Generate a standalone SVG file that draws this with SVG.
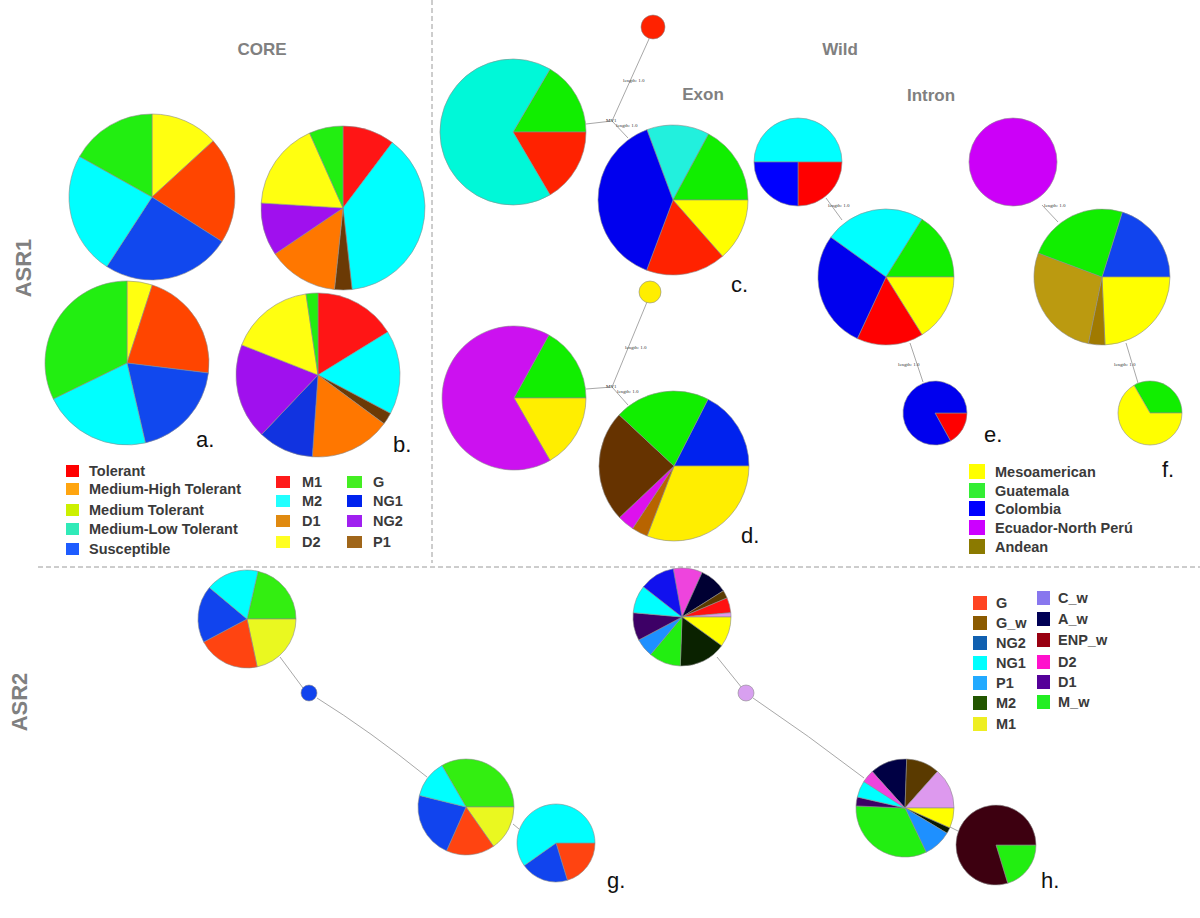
<svg xmlns="http://www.w3.org/2000/svg" width="1200" height="918" viewBox="0 0 1200 918">
<style>
.bg{fill:#ffffff}
.pie path,.pie circle{stroke:#8c8c8c;stroke-width:0.6}
.ttl{font-family:"Liberation Sans",Arial,sans-serif;font-weight:bold;fill:#808080}
.lab{font-family:"Liberation Sans",Arial,sans-serif;font-size:22px;fill:#111}
.leg{font-family:"Liberation Sans",Arial,sans-serif;font-weight:bold;font-size:14.5px;fill:#3a3a3a}
.tiny{font-family:"Liberation Serif","Times New Roman",serif;font-size:5px;fill:#333}
.dash{stroke:#9a9a9a;stroke-width:1;stroke-dasharray:5 3;fill:none}
.edge{stroke:#a8a8a8;stroke-width:1;fill:none}
</style>
<rect class="bg" x="0" y="0" width="1200" height="918"/>

<!-- section separators -->
<g id="separators">
<line class="dash" x1="432" y1="0" x2="432" y2="563"/>
<line class="dash" x1="38" y1="567" x2="1200" y2="567"/>
</g>

<!-- titles -->
<g id="titles">
<text class="ttl" x="262" y="55" font-size="17" text-anchor="middle">CORE</text>
<text class="ttl" x="840" y="55" font-size="17" text-anchor="middle">Wild</text>
<text class="ttl" x="703" y="100" font-size="17" text-anchor="middle">Exon</text>
<text class="ttl" x="931" y="101" font-size="17" text-anchor="middle">Intron</text>
<text class="ttl" font-size="22" text-anchor="middle" transform="translate(31,268) rotate(-90)">ASR1</text>
<text class="ttl" font-size="22" text-anchor="middle" transform="translate(27,702) rotate(-90)">ASR2</text>
</g>

<!-- connectors -->
<g id="connectors">
<line class="edge" x1="586" y1="124" x2="612" y2="121"/>
<line class="edge" x1="612" y1="121" x2="649" y2="39"/>
<line class="edge" x1="612" y1="121" x2="628" y2="138"/>
<line class="edge" x1="586" y1="389" x2="612" y2="387"/>
<line class="edge" x1="612" y1="387" x2="647" y2="302"/>
<line class="edge" x1="612" y1="387" x2="628" y2="405"/>
<line class="edge" x1="826" y1="198" x2="842" y2="220"/>
<line class="edge" x1="910" y1="343" x2="923" y2="382"/>
<line class="edge" x1="1042" y1="205" x2="1058" y2="222"/>
<line class="edge" x1="1126" y1="343" x2="1138" y2="383"/>
<line class="edge" x1="280" y1="657" x2="303" y2="688"/>
<path class="edge" d="M317,698 Q370,731 427,777"/>
<line class="edge" x1="513" y1="824" x2="519" y2="829"/>
<line class="edge" x1="717" y1="657" x2="742" y2="688"/>
<path class="edge" d="M753,698 Q808,735 864,778"/>
<line class="edge" x1="950" y1="827" x2="958" y2="831"/>
<text class="tiny" x="623" y="82">length: 1.0</text>
<text class="tiny" x="606" y="122">MV1</text>
<text class="tiny" x="616" y="127">length: 1.0</text>
<text class="tiny" x="625" y="349">length: 1.0</text>
<text class="tiny" x="606" y="388">MV1</text>
<text class="tiny" x="617" y="393">length: 1.0</text>
<text class="tiny" x="828" y="207">length: 1.0</text>
<text class="tiny" x="898" y="366">length: 1.0</text>
<text class="tiny" x="1044" y="207">length: 1.0</text>
<text class="tiny" x="1114" y="366">length: 1.0</text>
</g>

<!-- a. -->
<g id="pie-a1" class="pie">
<path fill="#ffff10" d="M152,197 L152,114 A83,83 0 0 1 213.2,140.9 Z"/>
<path fill="#ff4500" d="M152,197 L213.2,140.9 A83,83 0 0 1 222,241.6 Z"/>
<path fill="#1148ee" d="M152,197 L222,241.6 A83,83 0 0 1 106.8,266.6 Z"/>
<path fill="#00ffff" d="M152,197 L106.8,266.6 A83,83 0 0 1 79.6,156.4 Z"/>
<path fill="#22ee11" d="M152,197 L79.6,156.4 A83,83 0 0 1 152,114 Z"/>
</g>
<g id="pie-a2" class="pie">
<path fill="#ffff10" d="M127,363 L127,281 A82,82 0 0 1 152.3,285 Z"/>
<path fill="#ff4500" d="M127,363 L152.3,285 A82,82 0 0 1 208.4,373 Z"/>
<path fill="#1148ee" d="M127,363 L208.4,373 A82,82 0 0 1 145.4,442.9 Z"/>
<path fill="#00ffff" d="M127,363 L145.4,442.9 A82,82 0 0 1 53.3,398.9 Z"/>
<path fill="#22ee11" d="M127,363 L53.3,398.9 A82,82 0 0 1 127,281 Z"/>
</g>
<!-- b. -->
<g id="pie-b1" class="pie">
<path fill="#ff1515" d="M343,208 L343,126 A82,82 0 0 1 392.3,142.5 Z"/>
<path fill="#00ffff" d="M343,208 L392.3,142.5 A82,82 0 0 1 352.1,289.5 Z"/>
<path fill="#6b3a05" d="M343,208 L352.1,289.5 A82,82 0 0 1 334.4,289.5 Z"/>
<path fill="#ff7700" d="M343,208 L334.4,289.5 A82,82 0 0 1 275,253.9 Z"/>
<path fill="#a010ee" d="M343,208 L275,253.9 A82,82 0 0 1 261.2,203 Z"/>
<path fill="#ffff10" d="M343,208 L261.2,203 A82,82 0 0 1 309.6,133.1 Z"/>
<path fill="#22ee11" d="M343,208 L309.6,133.1 A82,82 0 0 1 343,126 Z"/>
</g>
<g id="pie-b2" class="pie">
<path fill="#ff1515" d="M318,375 L318,293 A82,82 0 0 1 387.8,332 Z"/>
<path fill="#00ffff" d="M318,375 L387.8,332 A82,82 0 0 1 390.5,413.4 Z"/>
<path fill="#6b3a05" d="M318,375 L390.5,413.4 A82,82 0 0 1 384,423.7 Z"/>
<path fill="#ff7700" d="M318,375 L384,423.7 A82,82 0 0 1 312.3,456.8 Z"/>
<path fill="#1133e0" d="M318,375 L312.3,456.8 A82,82 0 0 1 261.6,434.5 Z"/>
<path fill="#a010ee" d="M318,375 L261.6,434.5 A82,82 0 0 1 241.7,344.9 Z"/>
<path fill="#ffff10" d="M318,375 L241.7,344.9 A82,82 0 0 1 306,293.9 Z"/>
<path fill="#22ee11" d="M318,375 L306,293.9 A82,82 0 0 1 318,293 Z"/>
</g>

<!-- c. exon -->
<g id="pie-c-haplo4" class="pie">
<path fill="#11ee00" d="M513,132 L550,69.1 A73,73 0 0 1 586,132 Z"/>
<path fill="#ff2200" d="M513,132 L586,132 A73,73 0 0 1 550,194.9 Z"/>
<path fill="#00f8d8" d="M513,132 L550,194.9 A73,73 0 1 1 550,69.1 Z"/>
</g>
<g id="node-c-red" class="pie"><circle cx="653" cy="27" r="12" fill="#ff2200"/></g>
<g id="pie-c" class="pie">
<path fill="#22f0dd" d="M673,200 L646.9,129.7 A75,75 0 0 1 708.6,134 Z"/>
<path fill="#11ee00" d="M673,200 L708.6,134 A75,75 0 0 1 748,200 Z"/>
<path fill="#ffff00" d="M673,200 L748,200 A75,75 0 0 1 722.5,256.3 Z"/>
<path fill="#ff2200" d="M673,200 L722.5,256.3 A75,75 0 0 1 646.6,270.2 Z"/>
<path fill="#0000ee" d="M673,200 L646.6,270.2 A75,75 0 0 1 646.9,129.7 Z"/>
</g>
<!-- d. exon -->
<g id="node-d-yellow" class="pie"><circle cx="650" cy="292" r="11" fill="#ffee00"/></g>
<g id="pie-d-left" class="pie">
<path fill="#11ee00" d="M514,398 L548.9,335 A72,72 0 0 1 586,398 Z"/>
<path fill="#ffee00" d="M514,398 L586,398 A72,72 0 0 1 550,460.4 Z"/>
<path fill="#cc11f0" d="M514,398 L550,460.4 A72,72 0 1 1 548.9,335 Z"/>
</g>
<g id="pie-d" class="pie">
<path fill="#0022ee" d="M674,466 L708,399.2 A75,75 0 0 1 749,466 Z"/>
<path fill="#ffee00" d="M674,466 L749,466 A75,75 0 0 1 647.1,536 Z"/>
<path fill="#b86400" d="M674,466 L647.1,536 A75,75 0 0 1 632.6,528.5 Z"/>
<path fill="#dd11ee" d="M674,466 L632.6,528.5 A75,75 0 0 1 619.5,517.5 Z"/>
<path fill="#663300" d="M674,466 L619.5,517.5 A75,75 0 0 1 619.1,414.8 Z"/>
<path fill="#11ee00" d="M674,466 L619.1,414.8 A75,75 0 0 1 708,399.2 Z"/>
</g>

<!-- e. intron -->
<g id="pie-e-top" class="pie">
<path fill="#00ffff" d="M798,162 L754,162 A44,44 0 0 1 842,162 Z"/>
<path fill="#ff0000" d="M798,162 L842,162 A44,44 0 0 1 798,206 Z"/>
<path fill="#0000ff" d="M798,162 L798,206 A44,44 0 0 1 754,162 Z"/>
</g>
<g id="pie-e-mid" class="pie">
<path fill="#00ffff" d="M886,277 L830.8,237.2 A68,68 0 0 1 922,219.3 Z"/>
<path fill="#11ee00" d="M886,277 L922,219.3 A68,68 0 0 1 954,277 Z"/>
<path fill="#ffff00" d="M886,277 L954,277 A68,68 0 0 1 922,334.7 Z"/>
<path fill="#ff0000" d="M886,277 L922,334.7 A68,68 0 0 1 857.3,338.6 Z"/>
<path fill="#0000ee" d="M886,277 L857.3,338.6 A68,68 0 0 1 830.8,237.2 Z"/>
</g>
<g id="pie-e-bot" class="pie">
<path fill="#ff0000" d="M935,413 L967,413 A32,32 0 0 1 950.5,441 Z"/>
<path fill="#0000ee" d="M935,413 L950.5,441 A32,32 0 1 1 967,413 Z"/>
</g>

<!-- f. intron -->
<g id="pie-f-top" class="pie"><circle cx="1013" cy="162" r="44" fill="#cc00f8"/></g>
<g id="pie-f-mid" class="pie">
<path fill="#1144ee" d="M1102,277 L1122.3,212.1 A68,68 0 0 1 1170,277 Z"/>
<path fill="#ffff00" d="M1102,277 L1170,277 A68,68 0 0 1 1105,344.9 Z"/>
<path fill="#a07a00" d="M1102,277 L1105,344.9 A68,68 0 0 1 1088.3,343.6 Z"/>
<path fill="#bb9a10" d="M1102,277 L1088.3,343.6 A68,68 0 0 1 1038.3,253.1 Z"/>
<path fill="#11ee00" d="M1102,277 L1038.3,253.1 A68,68 0 0 1 1122.3,212.1 Z"/>
</g>
<g id="pie-f-bot" class="pie">
<path fill="#11ee00" d="M1150,413 L1134,385.3 A32,32 0 0 1 1182,413 Z"/>
<path fill="#ffff00" d="M1150,413 L1182,413 A32,32 0 1 1 1134,385.3 Z"/>
</g>

<!-- g. ASR2 core -->
<g id="pie-g1" class="pie">
<path fill="#33ee11" d="M247,619 L258,571.3 A49,49 0 0 1 296,619 Z"/>
<path fill="#eaf820" d="M247,619 L296,619 A49,49 0 0 1 257.2,666.9 Z"/>
<path fill="#ff4411" d="M247,619 L257.2,666.9 A49,49 0 0 1 203.7,642 Z"/>
<path fill="#1144ee" d="M247,619 L203.7,642 A49,49 0 0 1 209.4,587.6 Z"/>
<path fill="#00ffff" d="M247,619 L209.4,587.6 A49,49 0 0 1 258,571.3 Z"/>
</g>
<g id="node-g-blue" class="pie"><circle cx="309" cy="693" r="8" fill="#1144ee"/></g>
<g id="pie-g2" class="pie">
<path fill="#33ee11" d="M466,807 L441.9,765.5 A48,48 0 0 1 514,807 Z"/>
<path fill="#eaf820" d="M466,807 L514,807 A48,48 0 0 1 493.5,846.3 Z"/>
<path fill="#ff4411" d="M466,807 L493.5,846.3 A48,48 0 0 1 446.5,850.8 Z"/>
<path fill="#1144ee" d="M466,807 L446.5,850.8 A48,48 0 0 1 419.4,795.4 Z"/>
<path fill="#00ffff" d="M466,807 L419.4,795.4 A48,48 0 0 1 441.9,765.5 Z"/>
</g>
<g id="pie-g3" class="pie">
<path fill="#ff4411" d="M556,843 L595,843 A39,39 0 0 1 567.4,880.3 Z"/>
<path fill="#1144ee" d="M556,843 L567.4,880.3 A39,39 0 0 1 524.2,865.6 Z"/>
<path fill="#00ffff" d="M556,843 L524.2,865.6 A39,39 0 1 1 595,843 Z"/>
</g>

<!-- h. ASR2 core + wild -->
<g id="pie-h1" class="pie">
<path fill="#ee44dd" d="M682,617 L673.2,568.8 A49,49 0 0 1 702.2,572.4 Z"/>
<path fill="#000033" d="M682,617 L702.2,572.4 A49,49 0 0 1 723.4,590.7 Z"/>
<path fill="#5a3a00" d="M682,617 L723.4,590.7 A49,49 0 0 1 727.1,597.9 Z"/>
<path fill="#ff1111" d="M682,617 L727.1,597.9 A49,49 0 0 1 730.8,612.7 Z"/>
<path fill="#dd99ee" d="M682,617 L730.8,612.7 A49,49 0 0 1 731,617 Z"/>
<path fill="#ffff00" d="M682,617 L731,617 A49,49 0 0 1 721.6,645.8 Z"/>
<path fill="#0a2200" d="M682,617 L721.6,645.8 A49,49 0 0 1 680.3,666 Z"/>
<path fill="#22ee11" d="M682,617 L680.3,666 A49,49 0 0 1 650.6,654.6 Z"/>
<path fill="#1e90ff" d="M682,617 L650.6,654.6 A49,49 0 0 1 638.7,640 Z"/>
<path fill="#3d0066" d="M682,617 L638.7,640 A49,49 0 0 1 633.2,612.7 Z"/>
<path fill="#00ffff" d="M682,617 L633.2,612.7 A49,49 0 0 1 643.4,586.8 Z"/>
<path fill="#1111ee" d="M682,617 L643.4,586.8 A49,49 0 0 1 673.2,568.8 Z"/>
</g>
<g id="node-h-lavender" class="pie"><circle cx="746" cy="693" r="8" fill="#d8a0f0"/></g>
<g id="pie-h2" class="pie">
<path fill="#000044" d="M905,808 L872.2,771.6 A49,49 0 0 1 906.7,759 Z"/>
<path fill="#5a3a00" d="M905,808 L906.7,759 A49,49 0 0 1 937.5,771.4 Z"/>
<path fill="#dd99ee" d="M905,808 L937.5,771.4 A49,49 0 0 1 954,808 Z"/>
<path fill="#ffff00" d="M905,808 L954,808 A49,49 0 0 1 949.8,827.9 Z"/>
<path fill="#0a1a00" d="M905,808 L949.8,827.9 A49,49 0 0 1 947,833.2 Z"/>
<path fill="#1e90ff" d="M905,808 L947,833.2 A49,49 0 0 1 926.2,852.2 Z"/>
<path fill="#22ee11" d="M905,808 L926.2,852.2 A49,49 0 0 1 856,805.9 Z"/>
<path fill="#3d0066" d="M905,808 L856,805.9 A49,49 0 0 1 857.3,797 Z"/>
<path fill="#00ffff" d="M905,808 L857.3,797 A49,49 0 0 1 863.8,781.5 Z"/>
<path fill="#ee44dd" d="M905,808 L863.8,781.5 A49,49 0 0 1 872.2,771.6 Z"/>
</g>
<g id="pie-h3" class="pie">
<path fill="#22ee11" d="M996,845 L1036,845 A40,40 0 0 1 1007.7,883.3 Z"/>
<path fill="#3d0010" d="M996,845 L1007.7,883.3 A40,40 0 1 1 1036,845 Z"/>
</g>

<!-- panel letters -->
<g id="panel-labels">
<text class="lab" x="196" y="447">a.</text>
<text class="lab" x="393" y="452">b.</text>
<text class="lab" x="731" y="292">c.</text>
<text class="lab" x="741" y="543">d.</text>
<text class="lab" x="984" y="442">e.</text>
<text class="lab" x="1162" y="477">f.</text>
<text class="lab" x="607" y="888">g.</text>
<text class="lab" x="1041" y="888">h.</text>
</g>

<!-- legend: tolerance -->
<g id="legend-tolerance">
<rect x="66" y="465" width="13" height="12" fill="#ff0000"/>
<rect x="66" y="483" width="13" height="12" fill="#ffa510"/>
<rect x="66" y="504" width="13" height="12" fill="#ccf000"/>
<rect x="66" y="523" width="13" height="12" fill="#30eab8"/>
<rect x="66" y="543" width="13" height="12" fill="#1e5cff"/>
<text class="leg" x="89" y="476">Tolerant</text>
<text class="leg" x="89" y="494">Medium-High Tolerant</text>
<text class="leg" x="89" y="515">Medium Tolerant</text>
<text class="leg" x="89" y="534">Medium-Low Tolerant</text>
<text class="leg" x="89" y="554">Susceptible</text>
</g>
<!-- legend: core groups -->
<g id="legend-core-groups">
<rect x="276" y="476" width="14" height="12" fill="#ff1a1a"/>
<rect x="276" y="495" width="14" height="12" fill="#22ffff"/>
<rect x="276" y="515" width="14" height="12" fill="#e08a10"/>
<rect x="276" y="536" width="14" height="12" fill="#ffff22"/>
<text class="leg" x="302" y="487">M1</text>
<text class="leg" x="302" y="506">M2</text>
<text class="leg" x="302" y="526">D1</text>
<text class="leg" x="302" y="547">D2</text>
<rect x="347" y="476" width="15" height="12" fill="#44ee22"/>
<rect x="347" y="495" width="15" height="12" fill="#0022ee"/>
<rect x="347" y="515" width="15" height="12" fill="#a020f0"/>
<rect x="347" y="536" width="15" height="12" fill="#a0661a"/>
<text class="leg" x="373" y="487">G</text>
<text class="leg" x="373" y="506">NG1</text>
<text class="leg" x="373" y="526">NG2</text>
<text class="leg" x="373" y="547">P1</text>
</g>
<!-- legend: wild -->
<g id="legend-wild">
<rect x="969" y="464" width="16" height="15" fill="#ffff00"/>
<rect x="969" y="483" width="16" height="15" fill="#33ee33"/>
<rect x="969" y="501" width="16" height="15" fill="#0000ff"/>
<rect x="969" y="520" width="16" height="15" fill="#cc00ff"/>
<rect x="969" y="539" width="16" height="15" fill="#8b7a00"/>
<text class="leg" x="995" y="477">Mesoamerican</text>
<text class="leg" x="995" y="496">Guatemala</text>
<text class="leg" x="995" y="514">Colombia</text>
<text class="leg" x="995" y="533">Ecuador-North Perú</text>
<text class="leg" x="995" y="552">Andean</text>
</g>
<!-- legend: ASR2 -->
<g id="legend-asr2">
<rect x="973" y="596" width="14" height="14" fill="#ff4422"/>
<rect x="973" y="616" width="14" height="14" fill="#8b5a00"/>
<rect x="973" y="636" width="14" height="14" fill="#1060b0"/>
<rect x="973" y="656" width="14" height="14" fill="#00ffff"/>
<rect x="973" y="676" width="14" height="14" fill="#22aaff"/>
<rect x="973" y="696" width="14" height="14" fill="#225500"/>
<rect x="973" y="717" width="14" height="14" fill="#eeee22"/>
<text class="leg" x="996" y="608">G</text>
<text class="leg" x="996" y="628">G_w</text>
<text class="leg" x="996" y="648">NG2</text>
<text class="leg" x="996" y="668">NG1</text>
<text class="leg" x="996" y="688">P1</text>
<text class="leg" x="996" y="708">M2</text>
<text class="leg" x="996" y="729">M1</text>
<rect x="1037" y="591" width="13" height="14" fill="#8877ee"/>
<rect x="1037" y="612" width="13" height="14" fill="#000055"/>
<rect x="1037" y="633" width="13" height="14" fill="#990011"/>
<rect x="1037" y="655" width="13" height="14" fill="#ff11cc"/>
<rect x="1037" y="675" width="13" height="14" fill="#550099"/>
<rect x="1037" y="695" width="13" height="14" fill="#22ee22"/>
<text class="leg" x="1058" y="603">C_w</text>
<text class="leg" x="1058" y="624">A_w</text>
<text class="leg" x="1058" y="645">ENP_w</text>
<text class="leg" x="1058" y="667">D2</text>
<text class="leg" x="1058" y="687">D1</text>
<text class="leg" x="1058" y="707">M_w</text>
</g>
</svg>
